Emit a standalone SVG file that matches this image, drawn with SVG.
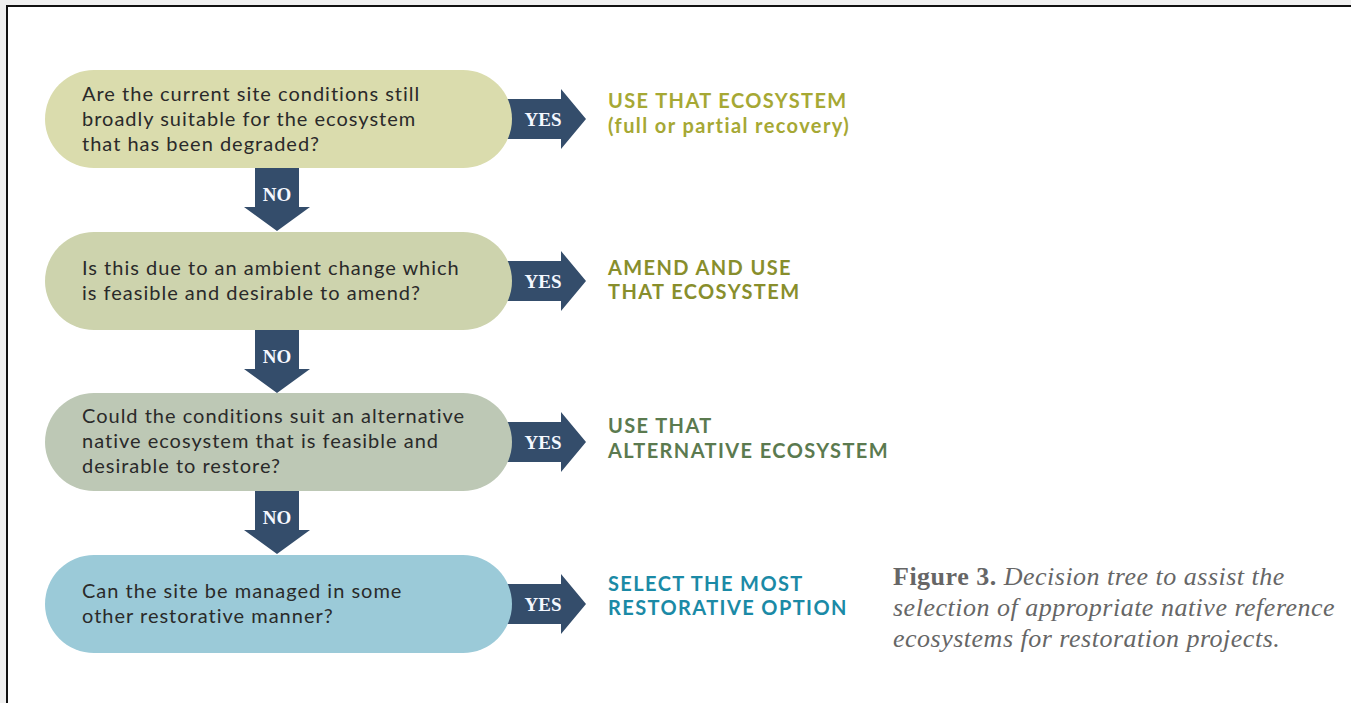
<svg xmlns="http://www.w3.org/2000/svg" width="1351" height="703" viewBox="0 0 1351 703">
  <defs>
    <style>
      .q { font-family: Lato, "Noto Sans", sans-serif; font-size: 20px; letter-spacing: 1px; fill: #2a2a2a; }
      .tag { font-family: "Liberation Serif", serif; font-weight: bold; font-size: 19px; fill: #f4f8ff; text-anchor: middle; }
      .out { font-family: Lato, "Noto Sans", sans-serif; font-weight: bold; font-size: 20px; letter-spacing: 1.4px; }
      .arrow { fill: #344d6b; }
      .cap { font-family: "Liberation Serif", serif; font-size: 26px; letter-spacing: 0.5px; fill: #666666; }
    </style>
    <!-- right-pointing YES arrow, origin at the body's left middle -->
    <path id="yesArrow" d="M0,-20 H54 V-30 L79,0 L54,30 V20 H0 Z"/>
    <!-- downward NO arrow, origin at the top centre -->
    <path id="noArrow" d="M-22,0 H22 V39 H33 L0,63 L-33,39 H-22 Z"/>
  </defs>

  <!-- page backdrop and frame -->
  <rect x="0" y="0" width="1351" height="703" fill="#f0f0f0"/>
  <rect x="7" y="6" width="1344" height="697" fill="#ffffff"/>
  <path d="M7,703 V6 H1351" fill="none" stroke="#111" stroke-width="2"/>

  <!-- connectors -->
  <g id="connectors">
    <g transform="translate(507,119)"><use href="#yesArrow" class="arrow"/><text class="tag" x="36" y="7">YES</text></g>
    <g transform="translate(507,281)"><use href="#yesArrow" class="arrow"/><text class="tag" x="36" y="7">YES</text></g>
    <g transform="translate(507,442)"><use href="#yesArrow" class="arrow"/><text class="tag" x="36" y="7">YES</text></g>
    <g transform="translate(507,604)"><use href="#yesArrow" class="arrow"/><text class="tag" x="36" y="7">YES</text></g>
    <g transform="translate(277,168)"><use href="#noArrow" class="arrow"/><text class="tag" x="0" y="33">NO</text></g>
    <g transform="translate(277,330)"><use href="#noArrow" class="arrow"/><text class="tag" x="0" y="33">NO</text></g>
    <g transform="translate(277,491)"><use href="#noArrow" class="arrow"/><text class="tag" x="0" y="33">NO</text></g>
  </g>

  <!-- decision 1 -->
  <g id="q1">
    <rect x="45" y="70" width="467" height="98" rx="49" fill="#dadcad"/>
    <text class="q" x="82" y="101">Are the current site conditions still</text>
    <text class="q" x="82" y="126">broadly suitable for the ecosystem</text>
    <text class="q" x="82" y="151">that has been degraded?</text>
  </g>

  <!-- decision 2 -->
  <g id="q2">
    <rect x="45" y="232" width="467" height="98" rx="49" fill="#cdd3ad"/>
    <text class="q" x="82" y="275">Is this due to an ambient change which</text>
    <text class="q" x="82" y="300">is feasible and desirable to amend?</text>
  </g>

  <!-- decision 3 -->
  <g id="q3">
    <rect x="45" y="393" width="467" height="98" rx="49" fill="#bdc8b5"/>
    <text class="q" x="82" y="423">Could the conditions suit an alternative</text>
    <text class="q" x="82" y="448">native ecosystem that is feasible and</text>
    <text class="q" x="82" y="473">desirable to restore?</text>
  </g>

  <!-- decision 4 -->
  <g id="q4">
    <rect x="45" y="555" width="467" height="98" rx="49" fill="#9bcad8"/>
    <text class="q" x="82" y="598">Can the site be managed in some</text>
    <text class="q" x="82" y="623">other restorative manner?</text>
  </g>

  <!-- outcomes -->
  <g id="r1" class="out" fill="#a6a834">
    <text x="608" y="108">USE THAT ECOSYSTEM</text>
    <text x="608" y="133">(full or partial recovery)</text>
  </g>
  <g id="r2" class="out" fill="#888e2c">
    <text x="608" y="275">AMEND AND USE</text>
    <text x="608" y="299">THAT ECOSYSTEM</text>
  </g>
  <g id="r3" class="out" fill="#5b7a4f">
    <text x="608" y="433">USE THAT</text>
    <text x="608" y="458">ALTERNATIVE ECOSYSTEM</text>
  </g>
  <g id="r4" class="out" fill="#1b8aa6">
    <text x="608" y="591">SELECT THE MOST</text>
    <text x="608" y="615">RESTORATIVE OPTION</text>
  </g>

  <!-- caption -->
  <g id="caption" class="cap">
    <text x="893" y="585"><tspan font-weight="bold">Figure 3.</tspan><tspan font-style="italic"> Decision tree to assist the</tspan></text>
    <text x="893" y="616" font-style="italic">selection of appropriate native reference</text>
    <text x="893" y="647" font-style="italic">ecosystems for restoration projects.</text>
  </g>
</svg>
